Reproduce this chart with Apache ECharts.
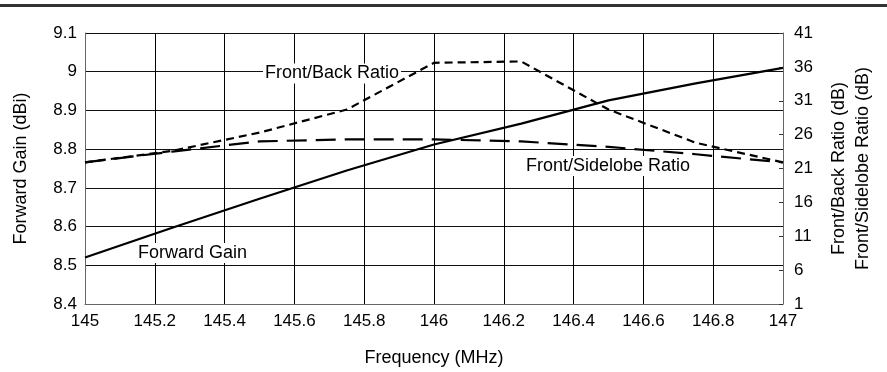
<!DOCTYPE html>
<html>
<head>
<meta charset="utf-8">
<script src="https://cdn.jsdelivr.net/npm/echarts@6/dist/echarts.min.js"></script>
<style>
html,body{margin:0;padding:0;background:#fff;}
#chart{width:887px;height:372px;}
</style>
</head>
<body>
<div id="chart"></div>
<script>
const frequency = [145, 145.25, 145.5, 145.75, 146, 146.25, 146.5, 146.75, 147];
const forwardGain = [8.52, 8.597, 8.672, 8.745, 8.812, 8.866, 8.926, 8.97, 9.01];
const frontBack = [21.9, 23.6, 26.3, 29.7, 36.6, 36.8, 29.7, 24.8, 21.9];
const frontSidelobe = [21.9, 23.5, 25.0, 25.3, 25.3, 25.0, 24.2, 23.1, 21.9];
const seriesNames = ['Forward Gain', 'Front/Back Ratio', 'Front/Sidelobe Ratio'];

const FONT = '"Liberation Sans", Arial, sans-serif';
const pairs = (ys) => frequency.map((f, i) => [f, ys[i]]);

const chart = echarts.init(document.getElementById('chart'));
const option = {
  animation: false,
  backgroundColor: '#fff',
  grid: { left: 85, right: 104, top: 33, bottom: 67 },
  xAxis: {
    type: 'value', min: 145, max: 147, interval: 0.2,
    name: 'Frequency (MHz)', nameLocation: 'middle', nameGap: 45,
    nameTextStyle: { fontFamily: FONT, fontSize: 18, color: '#000' },
    axisLine: { lineStyle: { color: '#666', width: 1 } },
    axisTick: { show: false },
    axisLabel: { fontFamily: FONT, fontSize: 17, color: '#000', margin: 9,
      formatter: v => String(+v.toFixed(1)) },
    splitLine: { show: true, lineStyle: { color: '#000', width: 1 } }
  },
  yAxis: [
    {
      type: 'value', min: 8.4, max: 9.1, interval: 0.1, position: 'left',
      name: 'Forward Gain (dBi)', nameLocation: 'middle', nameGap: 55, nameRotate: 90,
      nameTextStyle: { fontFamily: FONT, fontSize: 18, color: '#000' },
      axisLine: { show: true, lineStyle: { color: '#666', width: 1 } },
      axisTick: { show: false },
      axisLabel: { fontFamily: FONT, fontSize: 17, color: '#000', margin: 8,
        formatter: v => String(+v.toFixed(1)) },
      splitLine: { show: true, lineStyle: { color: '#111', width: 1 } }
    },
    {
      type: 'value', min: 1, max: 41, interval: 5, position: 'right',
      name: 'Front/Back Ratio (dB)\nFront/Sidelobe Ratio (dB)',
      nameLocation: 'middle', nameGap: 44, nameRotate: 90,
      nameTextStyle: { fontFamily: FONT, fontSize: 18, color: '#000', lineHeight: 24 },
      axisLine: { show: true, lineStyle: { color: '#666', width: 1 } },
      axisTick: { show: true, inside: true, length: 4, lineStyle: { color: '#333' } },
      axisLabel: { fontFamily: FONT, fontSize: 17, color: '#000', margin: 11 },
      splitLine: { show: false }
    }
  ],
  series: [
    { name: seriesNames[0], type: 'line', yAxisIndex: 0, data: pairs(forwardGain),
      symbol: 'none', lineStyle: { color: '#000', width: 2.2, type: 'solid' }, z: 5 },
    { name: seriesNames[1], type: 'line', yAxisIndex: 1, data: pairs(frontBack),
      symbol: 'none', lineStyle: { color: '#000', width: 2.2, type: [8, 5] }, z: 5 },
    { name: seriesNames[2], type: 'line', yAxisIndex: 1, data: pairs(frontSidelobe),
      symbol: 'none', lineStyle: { color: '#000', width: 2.2, type: [20, 9] }, z: 5 }
  ],
  graphic: [
    { type: 'rect', shape: { x: 0, y: 4, width: 887, height: 3 }, style: { fill: '#333' }, z: 10 },
    { type: 'text', x: 263, y: 73.5, z: 1,
      style: { text: seriesNames[1], font: '18px ' + FONT, fill: '#000',
        backgroundColor: '#fff', padding: [1, 2], verticalAlign: 'middle' } },
    { type: 'text', x: 524, y: 166, z: 1,
      style: { text: seriesNames[2], font: '18px ' + FONT, fill: '#000',
        backgroundColor: '#fff', padding: [1, 2], verticalAlign: 'middle' } },
    { type: 'text', x: 136, y: 253, z: 1,
      style: { text: seriesNames[0], font: '18px ' + FONT, fill: '#000',
        backgroundColor: '#fff', padding: [1, 2], verticalAlign: 'middle' } }
  ]
};
chart.setOption(option);
</script>
</body>
</html>
